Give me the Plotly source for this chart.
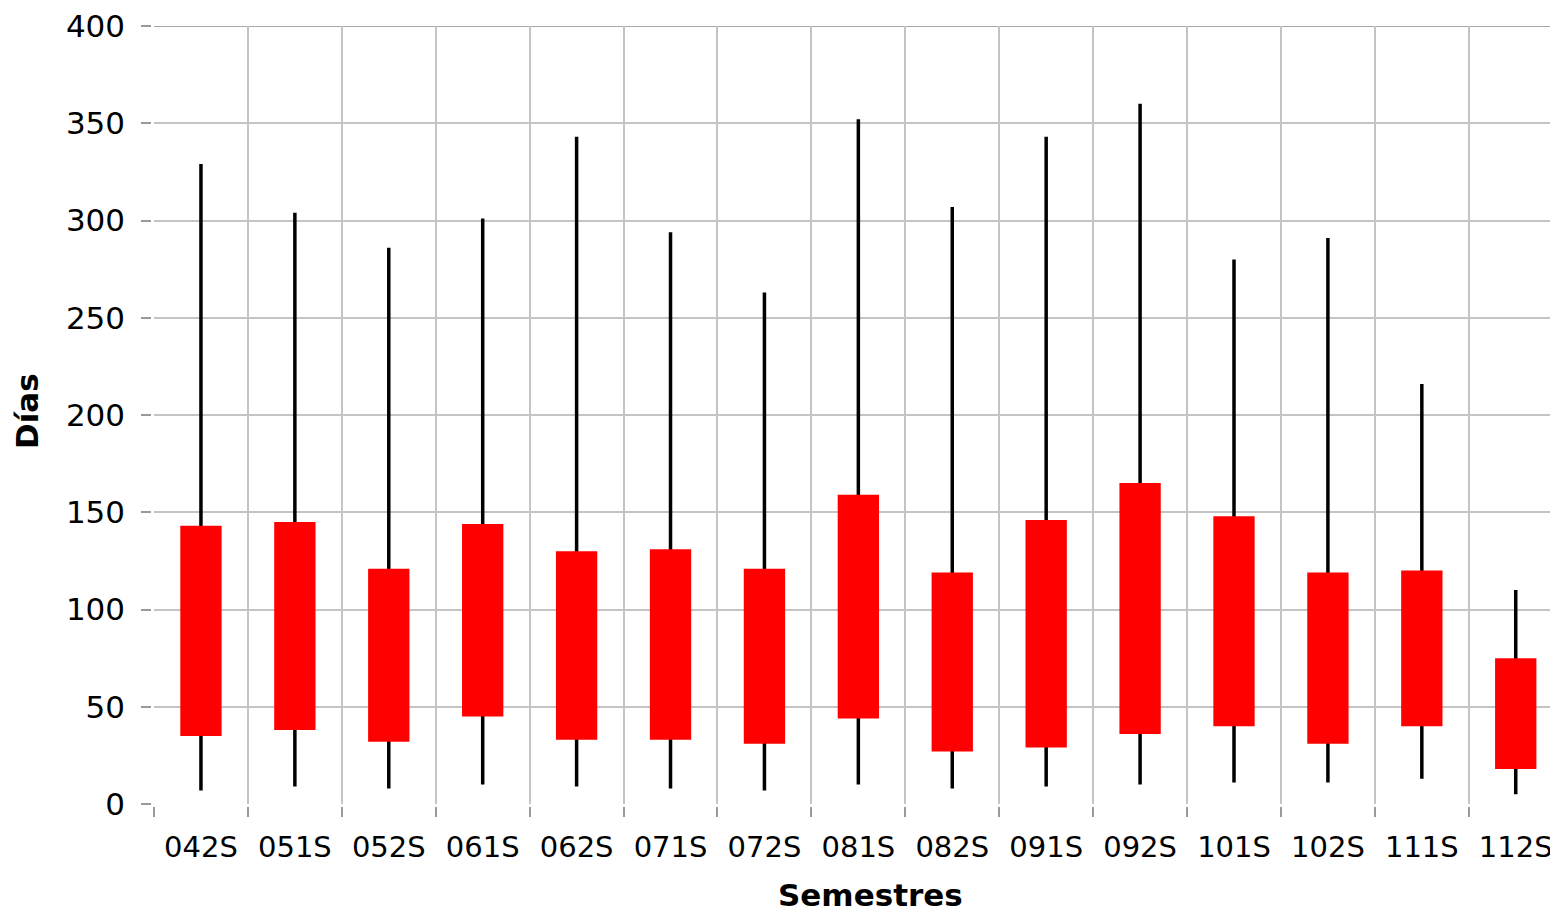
import plotly.graph_objects as go

# Semesters and the daily statistics
semestres = ["042S", "051S", "052S", "061S", "062S", "071S", "072S", "081S",
             "082S", "091S", "092S", "101S", "102S", "111S", "112S"]
maximo   = [329, 304, 286, 301, 343, 294, 263, 352, 307, 343, 360, 280, 291, 216, 110]
caja_sup = [143, 145, 121, 144, 130, 131, 121, 159, 119, 146, 165, 148, 119, 120, 75]
caja_inf = [35, 38, 32, 45, 33, 33, 31, 44, 27, 29, 36, 40, 31, 40, 18]
minimo   = [7, 9, 8, 10, 9, 8, 7, 10, 8, 9, 10, 11, 11, 13, 5]

FONT = "DejaVu Sans"
AXIS_COLOR = "#9a9a9a"
GRID_COLOR = "#c4c4c4"

# high-low lines (one trace, separated by None)
xs, ys = [], []
for s, lo, hi in zip(semestres, minimo, maximo):
    xs += [s, s, None]
    ys += [lo, hi, None]

fig = go.Figure()
fig.add_trace(go.Scatter(
    x=xs, y=ys, mode="lines",
    line=dict(color="black", width=3.5),
    hoverinfo="skip", showlegend=False, zorder=0,
))

# up-down bars
fig.add_trace(go.Bar(
    x=semestres,
    y=[t - b for t, b in zip(caja_sup, caja_inf)],
    base=caja_inf,
    width=0.44,
    marker=dict(color="#ff0000", line=dict(width=0)),
    showlegend=False, zorder=1,
))

# top gridline at 400 (plotly drops the one on the range edge)
fig.add_shape(type="line", xref="paper", x0=0, x1=1, yref="y", y0=400, y1=400,
              line=dict(color="#a8a8a8", width=2), layer="below")

# page body adds an 8px margin, so the figure is sized to fill the rest
fig.update_layout(
    width=1550, height=904,
    paper_bgcolor="white", plot_bgcolor="white",
    margin=dict(l=146, r=0, t=15, b=108),
    font=dict(family=FONT, size=32, color="black"),
    showlegend=False,
    xaxis=dict(
        type="category",
        range=[-0.5, 14.45],
        tickson="boundaries",
        ticks="outside", ticklen=10, tickwidth=2, tickcolor=AXIS_COLOR,
        showline=True, linecolor=AXIS_COLOR, linewidth=2.5,
        showgrid=True, gridcolor=GRID_COLOR, gridwidth=1.5,
        tickfont=dict(size=29),
        ticklabelstandoff=15,
        ticklabeloverflow="allow",
    ),
    yaxis=dict(
        range=[0, 400],
        dtick=50,
        ticks="outside", ticklen=10, tickwidth=2, tickcolor=AXIS_COLOR,
        showline=True, linecolor=AXIS_COLOR, linewidth=2.5,
        showgrid=True, gridcolor=GRID_COLOR, gridwidth=1.5,
        zeroline=False,
        tickfont=dict(size=31),
        ticklabelstandoff=10,
        ticklabeloverflow="allow",
    ),
    annotations=[
        dict(text="<b>Días</b>", textangle=-90, xref="paper", yref="paper",
             x=-0.0905, y=0.505, xanchor="center", yanchor="middle",
             showarrow=False, font=dict(size=31)),
        dict(text="<b>Semestres</b>", xref="paper", yref="paper",
             x=0.51, y=-0.117, xanchor="center", yanchor="middle",
             showarrow=False, font=dict(size=31)),
    ],
)

fig.write_html("out.html")
